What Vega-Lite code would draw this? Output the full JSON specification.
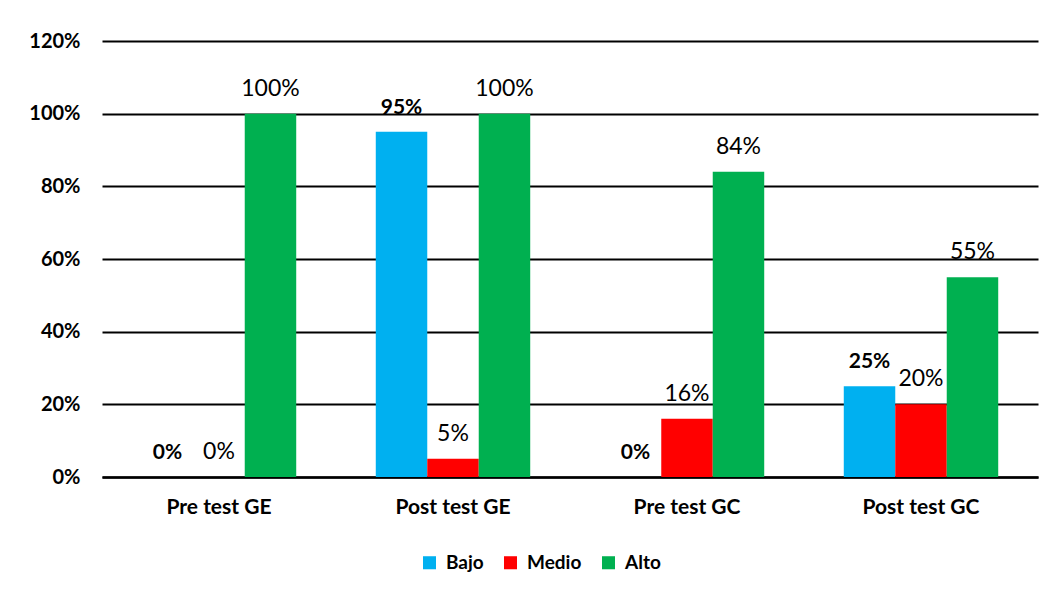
{
  "$schema": "https://vega.github.io/schema/vega-lite/v6.json",
  "autosize": "none",
  "width": 936,
  "height": 436,
  "padding": {"left": 102, "top": 41, "right": 25, "bottom": 117},
  "background": "white",
  "config": {
    "font": "Lato",
    "view": {"stroke": null}
  },
  "data": {
    "values": [
      {"grupo": "Pre test GE", "nivel": "Bajo", "valor": 0},
      {"grupo": "Pre test GE", "nivel": "Medio", "valor": 0},
      {"grupo": "Pre test GE", "nivel": "Alto", "valor": 1.0},
      {"grupo": "Post test GE", "nivel": "Bajo", "valor": 0.95},
      {"grupo": "Post test GE", "nivel": "Medio", "valor": 0.05},
      {"grupo": "Post test GE", "nivel": "Alto", "valor": 1.0},
      {"grupo": "Pre test GC", "nivel": "Bajo", "valor": 0},
      {"grupo": "Pre test GC", "nivel": "Medio", "valor": 0.16},
      {"grupo": "Pre test GC", "nivel": "Alto", "valor": 0.84},
      {"grupo": "Post test GC", "nivel": "Bajo", "valor": 0.25},
      {"grupo": "Post test GC", "nivel": "Medio", "valor": 0.20},
      {"grupo": "Post test GC", "nivel": "Alto", "valor": 0.55}
    ]
  },
  "encoding": {
    "x": {
      "field": "grupo", "type": "nominal",
      "sort": ["Pre test GE", "Post test GE", "Pre test GC", "Post test GC"],
      "scale": {"paddingInner": 0.34, "paddingOuter": 0.17},
      "axis": {
        "title": null, "labelAngle": 0, "labelFont": "Lato", "labelFontSize": 21,
        "labelFontWeight": "bold", "labelColor": "#000000", "labelPadding": 19,
        "ticks": false, "domainColor": "#000000", "domainWidth": 2.5
      }
    },
    "xOffset": {"field": "nivel", "type": "nominal", "sort": ["Bajo", "Medio", "Alto"]},
    "y": {
      "field": "valor", "type": "quantitative",
      "scale": {"domain": [0, 1.2], "nice": false},
      "axis": {
        "title": null, "format": ".0%", "values": [0, 0.2, 0.4, 0.6, 0.8, 1.0, 1.2],
        "labelFont": "Lato", "labelFontSize": 20, "labelFontWeight": "bold",
        "labelColor": "#000000", "labelPadding": 22, "ticks": false, "domain": false,
        "grid": true, "gridColor": "#000000", "gridWidth": 2, "gridOpacity": 1
      }
    }
  },
  "layer": [
    {
      "mark": {"type": "bar"},
      "encoding": {
        "color": {
          "field": "nivel", "type": "nominal",
          "sort": ["Bajo", "Medio", "Alto"],
          "scale": {"domain": ["Bajo", "Medio", "Alto"], "range": ["#00B0F0", "#FF0000", "#00B050"]},
          "legend": {
            "title": null, "orient": "none", "direction": "horizontal",
            "legendX": 318, "legendY": 512,
            "symbolType": "square", "symbolSize": 170, "symbolStrokeWidth": 0,
            "labelFont": "Lato", "labelFontSize": 19, "labelFontWeight": "bold",
            "labelColor": "#000000", "labelOffset": 7, "columnPadding": 17
          }
        }
      }
    },
    {
      "transform": [{"filter": "datum.nivel === 'Bajo'"}],
      "mark": {"type": "text", "baseline": "alphabetic", "dy": -18, "fontSize": 21, "fontWeight": "bold", "font": "Lato", "color": "#000000"},
      "encoding": {"text": {"field": "valor", "type": "quantitative", "format": ".0%"}}
    },
    {
      "transform": [{"filter": "datum.nivel !== 'Bajo'"}],
      "mark": {"type": "text", "baseline": "alphabetic", "dy": -18, "fontSize": 23, "font": "Lato", "color": "#000000"},
      "encoding": {"text": {"field": "valor", "type": "quantitative", "format": ".0%"}}
    }
  ]
}
